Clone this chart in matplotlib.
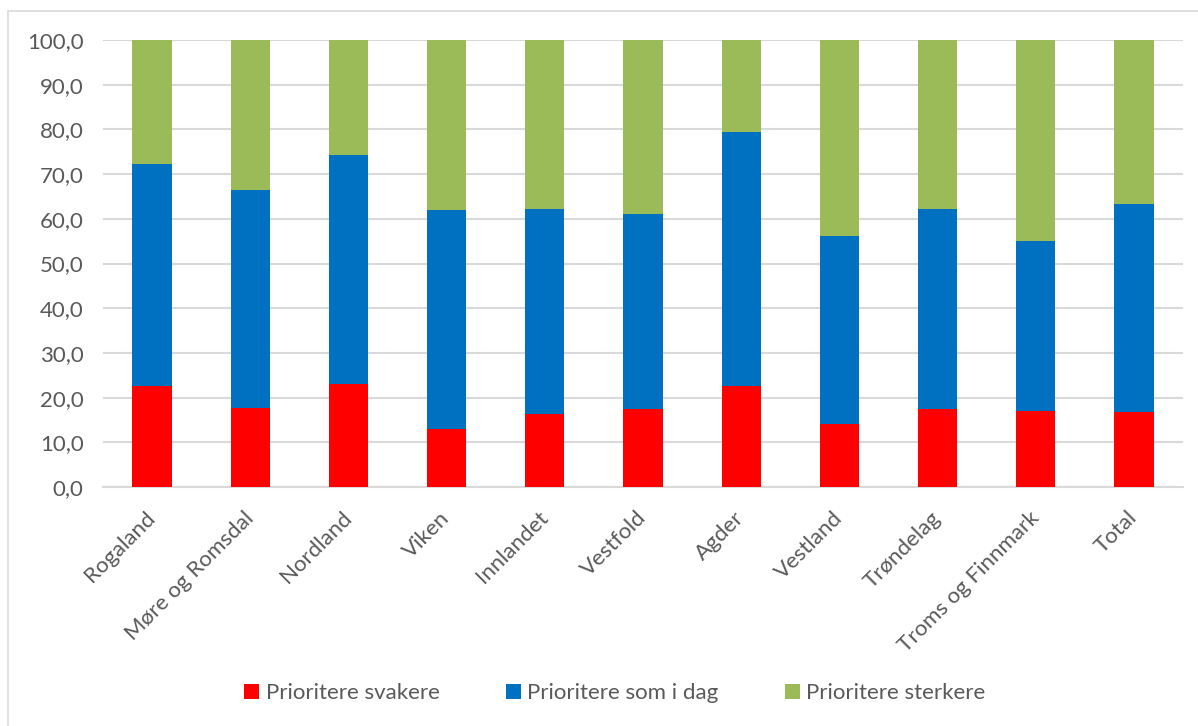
import numpy as np
import matplotlib.pyplot as plt
from matplotlib.patches import Rectangle
from matplotlib.transforms import ScaledTranslation

# Values (percent)
regions = ['Rogaland', 'Møre og Romsdal', 'Nordland', 'Viken', 'Innlandet',
           'Vestfold', 'Agder', 'Vestland', 'Trøndelag', 'Troms og Finnmark', 'Total']
svakere = [22.6, 17.7, 23.1, 12.9, 16.3, 17.4, 22.6, 14.1, 17.4, 17.1, 16.8]
som_i_dag = [49.7, 48.8, 51.2, 49.0, 45.8, 43.7, 56.9, 42.0, 44.8, 37.9, 46.5]
sterkere = [27.7, 33.5, 25.7, 38.1, 37.9, 38.9, 20.5, 43.9, 37.8, 45.0, 36.7]
series_names = ['Prioritere svakere', 'Prioritere som i dag', 'Prioritere sterkere']
yticks = [0, 10, 20, 30, 40, 50, 60, 70, 80, 90, 100]


def plot_chart():
    plt.rcParams['font.family'] = ['Lato', 'DejaVu Sans']
    txt = '#595959'
    grid = '#d9d9d9'
    fs = 16

    fig = plt.figure(figsize=(11.98, 7.26), dpi=100)
    ax = fig.add_axes([0.086, 0.3292, 0.9015, 0.6157])

    ind = np.arange(len(regions))
    width = 0.4
    bottom2 = np.array(svakere)
    bottom3 = bottom2 + np.array(som_i_dag)
    p1 = ax.bar(ind, svakere, width, color='#FF0000', zorder=3)
    p2 = ax.bar(ind, som_i_dag, width, bottom=bottom2, color='#0070C0', zorder=3)
    p3 = ax.bar(ind, sterkere, width, bottom=bottom3, color='#9BBB59', zorder=3)

    ax.set_xlim(-0.5, len(regions) - 0.5)
    ax.set_ylim(0, 100)
    ax.set_yticks(yticks)
    ax.set_yticklabels([('%.1f' % v).replace('.', ',') for v in yticks],
                       fontsize=fs, color=txt)
    ax.set_xticks(ind)
    ax.set_xticklabels(regions, rotation=45, ha='right', va='center',
                       rotation_mode='anchor', fontsize=fs, color=txt)
    # shift rotated labels a little to the right, as Excel does
    shift = ScaledTranslation(9 / 100, -3 / 100, fig.dpi_scale_trans)
    for lab in ax.get_xticklabels():
        lab.set_transform(lab.get_transform() + shift)
    ax.tick_params(axis='y', length=0, pad=14)
    ax.tick_params(axis='x', length=0, pad=20)
    ax.grid(axis='y', color=grid, linewidth=1.5, zorder=0)
    for s in ['left', 'right', 'top']:
        ax.spines[s].set_visible(False)
    ax.spines['bottom'].set_color(grid)
    ax.spines['bottom'].set_linewidth(1.5)

    leg = fig.legend((p1[0], p2[0], p3[0]), series_names, loc='center',
                     bbox_to_anchor=(615 / 1198, 0.0455), ncol=3, frameon=False,
                     fontsize=fs, handlelength=0.65, handleheight=0.65,
                     handletextpad=0.3, columnspacing=3.0)
    for t in leg.get_texts():
        t.set_color(txt)

    # chart area frame
    fig.patches.append(Rectangle((8 / 1198, -0.05), 1.1, 1.05 - 11 / 726,
                                 transform=fig.transFigure, fill=False,
                                 edgecolor=grid, linewidth=1.2))

    fig.savefig('out.png', dpi=100)


if __name__ == "__main__":
    plot_chart()
